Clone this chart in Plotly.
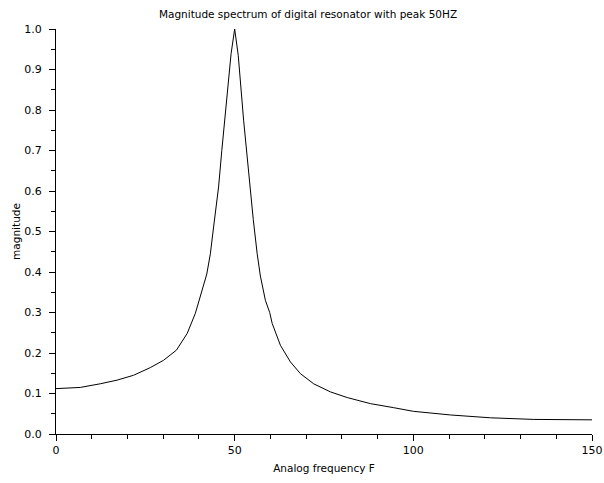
import plotly.graph_objects as go

# Values
freq_hz = [0, 6.8, 12.4, 17.1, 21.7, 26.4, 30.1, 33.7, 36.7, 39.0, 42.2, 43.2, 44.1,
           45.5, 46.4, 47.2, 48.2, 49.0, 50.0, 51.0, 52.5, 53.3, 54.2, 55.2, 56.3,
           57.2, 58.6, 59.8, 60.5, 62.8, 65.6, 68.4, 72.1, 76.8, 81.5, 88.0, 94.5,
           100.0, 110.4, 121.6, 133.7, 150.0]
magnitude = [0.112, 0.115, 0.124, 0.133, 0.145, 0.164, 0.182, 0.207, 0.248, 0.298,
             0.395, 0.445, 0.511, 0.610, 0.700, 0.775, 0.860, 0.939, 1.0, 0.935,
             0.775, 0.700, 0.610, 0.530, 0.445, 0.390, 0.330, 0.300, 0.273, 0.219,
             0.178, 0.149, 0.124, 0.104, 0.090, 0.075, 0.065, 0.056, 0.047, 0.040,
             0.036, 0.035]

x_ticks = [0, 50, 100, 150]
y_ticks = [0.0, 0.1, 0.2, 0.3, 0.4, 0.5, 0.6, 0.7, 0.8, 0.9, 1.0]

title_text = "Magnitude spectrum of digital resonator with peak 50HZ"
x_title = "Analog frequency F"
y_title = "magnitude"

font_family = "DejaVu Sans, Liberation Sans, Arial, sans-serif"

fig = go.Figure()
fig.add_trace(go.Scatter(x=freq_hz, y=magnitude, mode="lines",
                         line=dict(color="black", width=1), showlegend=False))

fig.update_layout(
    width=604, height=483,
    margin=dict(l=56, r=12, t=29, b=49, autoexpand=False),
    paper_bgcolor="white", plot_bgcolor="white",
    font=dict(family=font_family, size=11, color="black"),
    title=dict(text=title_text, x=308 / 604, xanchor="center", y=0.970, yanchor="middle",
               font=dict(size=10.5, family=font_family, color="black")),
)

fig.update_xaxes(
    range=[0, 150], tickvals=x_ticks, ticktext=[str(v) for v in x_ticks],
    showgrid=False, zeroline=False, showline=True, linecolor="black", linewidth=1,
    ticks="outside", ticklen=6, tickcolor="black", tickwidth=1, automargin=False,
    ticklabeloverflow="allow",
    minor=dict(ticks="outside", ticklen=4, dtick=10, tick0=0, tickcolor="black", showgrid=False),
    title=dict(text=x_title, standoff=8, font=dict(size=10.5)),
    tickfont=dict(size=11),
)
fig.update_yaxes(
    range=[0, 1.0], tickvals=y_ticks, ticktext=[f"{v:.1f}" for v in y_ticks],
    showgrid=False, zeroline=False, showline=True, linecolor="black", linewidth=1,
    ticks="outside", ticklen=6, tickcolor="black", tickwidth=1, automargin=False,
    ticklabelstandoff=5,
    minor=dict(ticks="outside", ticklen=4, dtick=0.05, tick0=0, tickcolor="black", showgrid=False),
    title=dict(text=y_title, standoff=1, font=dict(size=10.5)),
    tickfont=dict(size=11),
)

fig.write_html(
    "out.html",
    config={"displayModeBar": False},
    post_script="document.body.style.margin='0';document.body.style.overflow='hidden';",
)
